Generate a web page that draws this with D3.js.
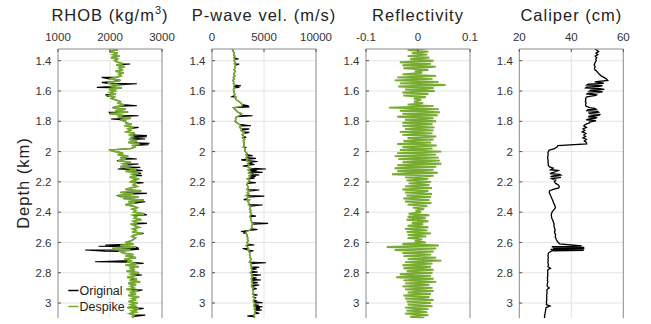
<!DOCTYPE html>
<html><head><meta charset="utf-8">
<script src="https://cdn.jsdelivr.net/npm/d3@7"></script>
<style>
html,body{margin:0;padding:0;background:#fff;}
svg{display:block;font-family:"Liberation Sans",Arial,sans-serif;}
</style></head>
<body><svg id="chart" width="651" height="324"></svg>
<script>
// ---------------- DATA ----------------
// depth sampling grid (km): 1.32 ... 3.10, step 0.01
const depth = d3.range(179).map(i => +(1.32 + i * 0.01).toFixed(2));

// RHOB despiked (kg/m3)
const rhobDespike = [
 2050,2120,1990,2150,2060,2180,2020,2140,2090,
 2150,2250,2120,2280,2180,2230,2110,2260,2170,2210,
 2120,1990,2200,2050,1950,2160,2010,2230,1980,2090,
 2000,2110,1960,2080,2030,
 2120,2200,2160,2250,2180,
 2050,2300,2100,2350,2000,2250,2150,2400,2200,2300,
 2300,2420,2280,2450,2350,2400,2320,2480,2380,2440,2400,
 2380,2520,2350,2560,2440,2480,2400,
 1980,
 2100,2250,2150,2350,2200,2300,2150,2400,2250,2320,2200,
 2350,2500,2300,2550,2420,2480,2380,2560,2450,2400,2500,
 2450,2520,2400,
 2300,2600,2200,2450,2150,2550,2250,2650,2350,2480,2300,
 2450,2520,2430,2500,2460,2650,2440,2510,2470,2600,2450,2500,2420,2480,2560,2440,2500,2450,2620,2470,2420,2490,2450,
 2400,2300,2450,2200,2500,2040,2400,2200,
 2250,2450,2300,2500,2280,2400,
 2350,2500,2300,2550,2380,2480,2320,2560,2400,2470,2330,2520,2380,2580,2350,2500,2400,2460,2320,2540,
 2380,2500,2350,2560,2420,2480,2360,2530,2400,2480,2340,2560,2420,2500,2380,2470,2430,2450
];
// RHOB original: spikes removed by despiking [depth km, kg/m3]
const rhobSpikes = [
 [1.422,2390],[1.51,1840],[1.543,1842],[1.552,2517],[1.576,1746],[1.625,1907],[1.635,1950],
 [1.697,2517],[1.741,1984],[1.763,2550],[1.785,2022],[1.84,2550],[1.895,2710],[1.902,2710],
 [1.917,2678],[1.945,2761],[1.955,2742],[2.049,2517],[2.06,2131],[2.082,2550],[2.104,2582],
 [2.115,2150],[2.126,2627],[2.145,2600],[2.159,2614],[2.206,2646],[2.276,2710],[2.298,2196],
 [2.331,2678],[2.419,2710],[2.474,2710],[2.54,2646],[2.617,1907],[2.625,1780],[2.639,2550],
 [2.645,2560],[2.65,1521],[2.657,1900],[2.727,1713],[2.738,2646],[2.815,2614],[2.914,2627],
 [3.035,2646],[3.08,2678]
];

// P-wave velocity despiked (m/s)
const vpDespike = [
 1920,2000,2050,2150,2080,2200,2100,2180,2120,
 2250,2150,2300,2180,2200,2120,2250,2150,2100,2200,
 2050,2150,2000,2100,2050,2200,2080,2150,2050,2120,
 2100,2200,2150,2300,2250,2400,
 2600,2800,2900,2850,
 2050,
 2200,2350,2500,2850,2700,
 2350,2250,2300,2200,2400,
 2600,2750,2650,2850,2800,
 2950,3100,2900,3050,2950,3150,3000,3100,3050,
 3100,3000,3200,3150,
 3200,3350,3250,3400,3300,
 3450,3300,3600,3400,3550,3450,
 3700,3450,3650,3500,3800,3550,3650,3400,3600,3500,
 3400,3350,3450,
 3500,3350,3600,3400,3550,3300,3500,3350,3600,3450,3550,3500,3650,
 3700,3600,3750,3650,3800,3700,3650,3750,3700,3800,3850,
 3900,3800,3850,3750,3600,
 3300,3250,3400,3350,
 3450,3400,3500,3350,3450,3300,3400,3500,3450,
 3550,3650,3600,3700,3650,3750,3700,3600,3750,3700,3800,
 3750,3850,3800,3700,3850,3800,3900,3750,3850,3800,3900,3850,3800,3950,3900,
 3950,4000,3900,4050,3950,4100,4000,3950,4100,4050,4000,
 4150,4050,4200,4100,4150,4000,4100,4050
];
const vpSpikes = [
 [1.389,2560],[1.422,2625],[1.565,2785],[1.575,2650],[1.638,1900],[1.697,3520],[1.705,3600],
 [1.763,3906],[1.829,3750],[1.85,3586],[1.873,3586],[1.905,3300],[1.972,3266],[2.027,3906],
 [2.045,4227],[2.055,2800],[2.065,4388],[2.075,3900],[2.085,4100],[2.095,2950],[2.115,5188],
 [2.125,4300],[2.137,4868],[2.145,4000],[2.155,4548],[2.165,4200],[2.175,4100],[2.206,4227],
 [2.254,4548],[2.294,5028],[2.318,3050],[2.353,4868],[2.426,4227],[2.474,5400],[2.514,4388],
 [2.528,2785],[2.538,3000],[2.617,4067],[2.64,2945],[2.655,4000],[2.734,5188],[2.764,4548],
 [2.775,4300],[2.795,4400],[2.815,4708],[2.835,4300],[2.848,4708],[2.865,4400],[2.881,4548],
 [2.905,4300],[2.947,4388],[2.965,4200],[2.985,4300],[2.998,4868],[3.015,4500],[3.024,4868],
 [3.035,4600],[3.046,4800],[3.068,4548],[3.086,3400]
];

// Reflectivity (dimensionless)
const reflectivity = [
 0.015,-0.02,0.02,-0.012,0.018,-0.02,0.022,-0.015,
 0.03,-0.035,0.025,-0.03,0.034,-0.028,0.02,
 -0.006,0.008,
 -0.03,0.035,-0.04,0.028,-0.045,0.04,-0.035,0.053,-0.038,
 0.03,-0.025,0.032,-0.03,0.02,-0.028,
 0.015,-0.008,0.006,-0.008,0.01,
 -0.02,0.03,-0.056,0.04,-0.035,0.042,-0.03,0.038,-0.04,0.03,-0.025,0.035,-0.03,0.028,
 -0.03,0.032,-0.025,0.03,-0.035,0.028,-0.03,0.035,-0.02,0.03,-0.028,0.025,-0.04,0.036,-0.03,0.028,
 -0.035,0.045,-0.04,0.035,-0.045,0.04,-0.038,0.042,-0.03,0.045,-0.04,0.035,-0.045,0.03,-0.04,0.038,-0.05,0.03,
 -0.025,0.02,-0.022,0.025,-0.018,0.022,
 -0.025,0.027,-0.03,0.02,-0.025,0.027,-0.022,0.025,-0.028,0.022,-0.025,0.026,-0.02,0.018,-0.01,0.012,
 -0.005,0.006,
 -0.018,0.022,-0.02,0.015,-0.022,0.02,-0.012,0.01,-0.02,
 0.02,-0.025,0.018,-0.022,0.025,-0.02,0.016,-0.02,
 0.008,-0.006,
 0.015,-0.03,0.04,-0.06,0.035,-0.045,0.03,
 -0.03,0.025,-0.028,0.035,-0.02,0.045,-0.025,0.028,-0.03,0.025,-0.028,0.03,-0.022,
 0.028,-0.035,0.025,-0.042,0.03,-0.028,0.035,-0.025,0.022,-0.03,0.028,-0.025,0.03,-0.02,0.025,-0.028,
 0.022,-0.025,0.03,-0.022,0.025,-0.02,0.028,-0.025,0.02,-0.022,0.018,-0.025,0.02,-0.015,0.012
];

// Caliper (cm)
const caliper = [
 48.9,49.8,50.5,49.5,50.2,49.2,49.8,49.4,
 49.6,49.2,49.0,48.8,49.2,48.9,49.1,
 49.8,50.3,50.8,51.5,
 52.5,53.5,54.0,
 49,52.5,46,51,45.5,52.7,47,50.5,46,49,
 45.8,45.5,45.6,45.4,45.7,45.5,45.6,
 47,49.5,46,50.5,47,50.8,46.5,49,45.8,48.5,47,
 45.5,44.8,45.8,44.5,45.2,44.2,45.6,44.8,45.5,44.5,45.8,45.0,45.8,
 45.9,
 34.8,34.5,33.5,
 31.5,31.2,31.0,31.1,31.0,30.9,31.0,31.1,31.0,31.2,31.1,
 31.5,33,32,34.5,32.5,35.5,33,36,32.5,34,33.5,
 34,35,35.4,35.2,
 33,31.6,
 31.5,31.8,32,32.3,32.5,32.8,33,33.2,
 33.5,33.8,33.9,33.5,
 33,32.6,32.4,32.3,32.4,32.5,
 32.8,33,33.2,33.4,33.3,33.5,33.6,33.8,33.5,33.7,34,33.8,34,
 34.2,34.5,35,35.5,
 42,33,45,37,
 32,31.2,
 31.1,31.0,31.2,31.0,31.1,31.0,31.1,31.2,31.0,32.0,31.0,30.9,31.0,30.9,31.0,30.8,30.9,30.8,31.0,30.8,
 30.7,30.8,31.5,30.7,30.6,30.7,30.6,30.5,30.6,30.5,30.6,30.4,30.5,30.4,31.8,30.3,30.2,30.1,30.0,29.9,
 29.7,29.8,29.6
];
// Caliper extra readings between grid samples in the rough intervals [depth km, cm]
const caliperExtra = [
 [1.545,51.5],[1.555,46.5],[1.565,52],[1.575,45.8],[1.585,51],[1.595,47.5],[1.605,52],[1.615,46.2],
 [1.625,50],[1.635,47],[1.715,49],[1.725,46.2],[1.735,50.2],[1.745,46.8],[1.755,51],[1.765,47.5],
 [1.775,50],[1.785,46.5],[1.795,49.5],[1.805,47],[2.125,35],[2.145,31.8],[2.155,36],[2.165,32],
 [2.623,44],[2.628,32.5],[2.633,45],[2.637,33],[2.642,44.5],[2.646,32],[2.652,44.8],[2.656,32.5]
];

// Axis tick labels
const titles = ["RHOB (kg/m", "P-wave vel. (m/s)", "Reflectivity", "Caliper (cm)"];
const xTicks = [[1000,2000,3000],[0,5000,10000],[-0.1,0,0.1],[20,40,60]];
const xTickLabels = [["1000","2000","3000"],["0","5000","10000"],["-0.1","0","0.1"],["20","40","60"]];
const yTicks = [1.4,1.6,1.8,2.0,2.2,2.4,2.6,2.8,3.0];
const yTickLabels = ["1.4","1.6","1.8","2","2.2","2.4","2.6","2.8","3"];
const legendLabels = ["Original","Despike"];

// ---------------- DRAW ----------------
const GREEN = "#77AC30";
const svg = d3.select("#chart");
const panelLeft = [58, 212, 366, 519.3];
const pw = 104, plotTop = 49, plotBottom = 318.2;
const y = d3.scaleLinear().domain([1.3228, 3.1]).range([plotTop, plotBottom]);

function series(vals){ return vals.map((v,i)=>[depth[i], v]); }
function withExtra(vals, extra){
  return series(vals).concat(extra).sort((a,b)=>a[0]-b[0]);
}

const panels = [
  {lines:[{data:withExtra(rhobDespike, rhobSpikes), color:"#000", w:1.1},
          {data:series(rhobDespike), color:GREEN, w:1.8}]},
  {lines:[{data:withExtra(vpDespike, vpSpikes), color:"#000", w:1.1},
          {data:series(vpDespike), color:GREEN, w:1.5}]},
  {lines:[{data:series(reflectivity), color:GREEN, w:1.9}]},
  {lines:[{data:withExtra(caliper, caliperExtra), color:"#000", w:1.3}]}
];

panels.forEach((p, k) => {
  const x0 = panelLeft[k];
  const ticks = xTicks[k];
  const x = d3.scaleLinear().domain([ticks[0], ticks[2]]).range([x0, x0 + pw]);
  const g = svg.append("g");
  g.selectAll(".gy").data(yTicks).join("line")
    .attr("x1", x0).attr("x2", x0 + pw)
    .attr("y1", d => y(d)).attr("y2", d => y(d))
    .attr("stroke", "#e4e4e4").attr("stroke-width", 1);
  g.append("line").attr("x1", x(ticks[1])).attr("x2", x(ticks[1]))
    .attr("y1", plotTop).attr("y2", plotBottom).attr("stroke", "#e4e4e4").attr("stroke-width", 1);
  const cid = "clip" + k;
  svg.append("clipPath").attr("id", cid).append("rect")
    .attr("x", x0).attr("y", plotTop).attr("width", pw).attr("height", plotBottom - plotTop);
  const dg = g.append("g").attr("clip-path", `url(#${cid})`);
  const line = d3.line().x(d => x(d[1])).y(d => y(d[0]));
  p.lines.forEach(l => {
    dg.append("path").attr("d", line(l.data)).attr("fill", "none")
      .attr("stroke", l.color).attr("stroke-width", l.w).attr("stroke-linejoin", "miter");
  });
  g.append("path").attr("d", `M${x0},${plotBottom}V${plotTop}H${x0+pw}V${plotBottom}`)
    .attr("fill", "none").attr("stroke", "#8a8a8a").attr("stroke-width", 1);
  g.selectAll(".ty").data(yTicks).join("line")
    .attr("x1", x0).attr("x2", x0 + 3).attr("y1", d => y(d)).attr("y2", d => y(d))
    .attr("stroke", "#555");
  g.selectAll(".tyl").data(yTicks).join("text")
    .attr("x", x0 - 6.5).attr("y", d => y(d)).attr("dy", "0.36em")
    .attr("text-anchor", "end").attr("font-size", 11.5).attr("fill", "#333")
    .text((d, i) => yTickLabels[i]);
  g.selectAll(".tx").data(ticks).join("line")
    .attr("x1", d => x(d)).attr("x2", d => x(d)).attr("y1", plotTop).attr("y2", plotTop + 3)
    .attr("stroke", "#555");
  g.selectAll(".txl").data(ticks).join("text")
    .attr("x", d => x(d)).attr("y", 41)
    .attr("text-anchor", "middle").attr("font-size", 11.5).attr("fill", "#333")
    .text((d, i) => xTickLabels[k][i]);
  const t = g.append("text").attr("x", x0 + pw / 2).attr("y", 21)
    .attr("text-anchor", "middle").attr("font-size", 16.5).attr("letter-spacing", "1px")
    .attr("fill", "#222").text(titles[k]);
  if (k === 0) {
    t.append("tspan").attr("dy", -7).attr("font-size", 11).text("3");
    t.append("tspan").attr("dy", 7).text(")");
  }
});

svg.append("text").attr("transform", "translate(29,183) rotate(-90)")
  .attr("text-anchor", "middle").attr("font-size", 16.5).attr("letter-spacing", "1px")
  .attr("fill", "#222").text("Depth (km)");

const lg = svg.append("g");
[["#000", 290.5], [GREEN, 306.5]].forEach((c, i) => {
  lg.append("line").attr("x1", 68.3).attr("x2", 78.5).attr("y1", c[1]).attr("y2", c[1])
    .attr("stroke", c[0]).attr("stroke-width", 1.5);
  lg.append("text").attr("x", 79.5).attr("y", c[1]).attr("dy", "0.36em")
    .attr("font-size", 12.5).attr("fill", "#222").text(legendLabels[i]);
});
</script></body></html>
